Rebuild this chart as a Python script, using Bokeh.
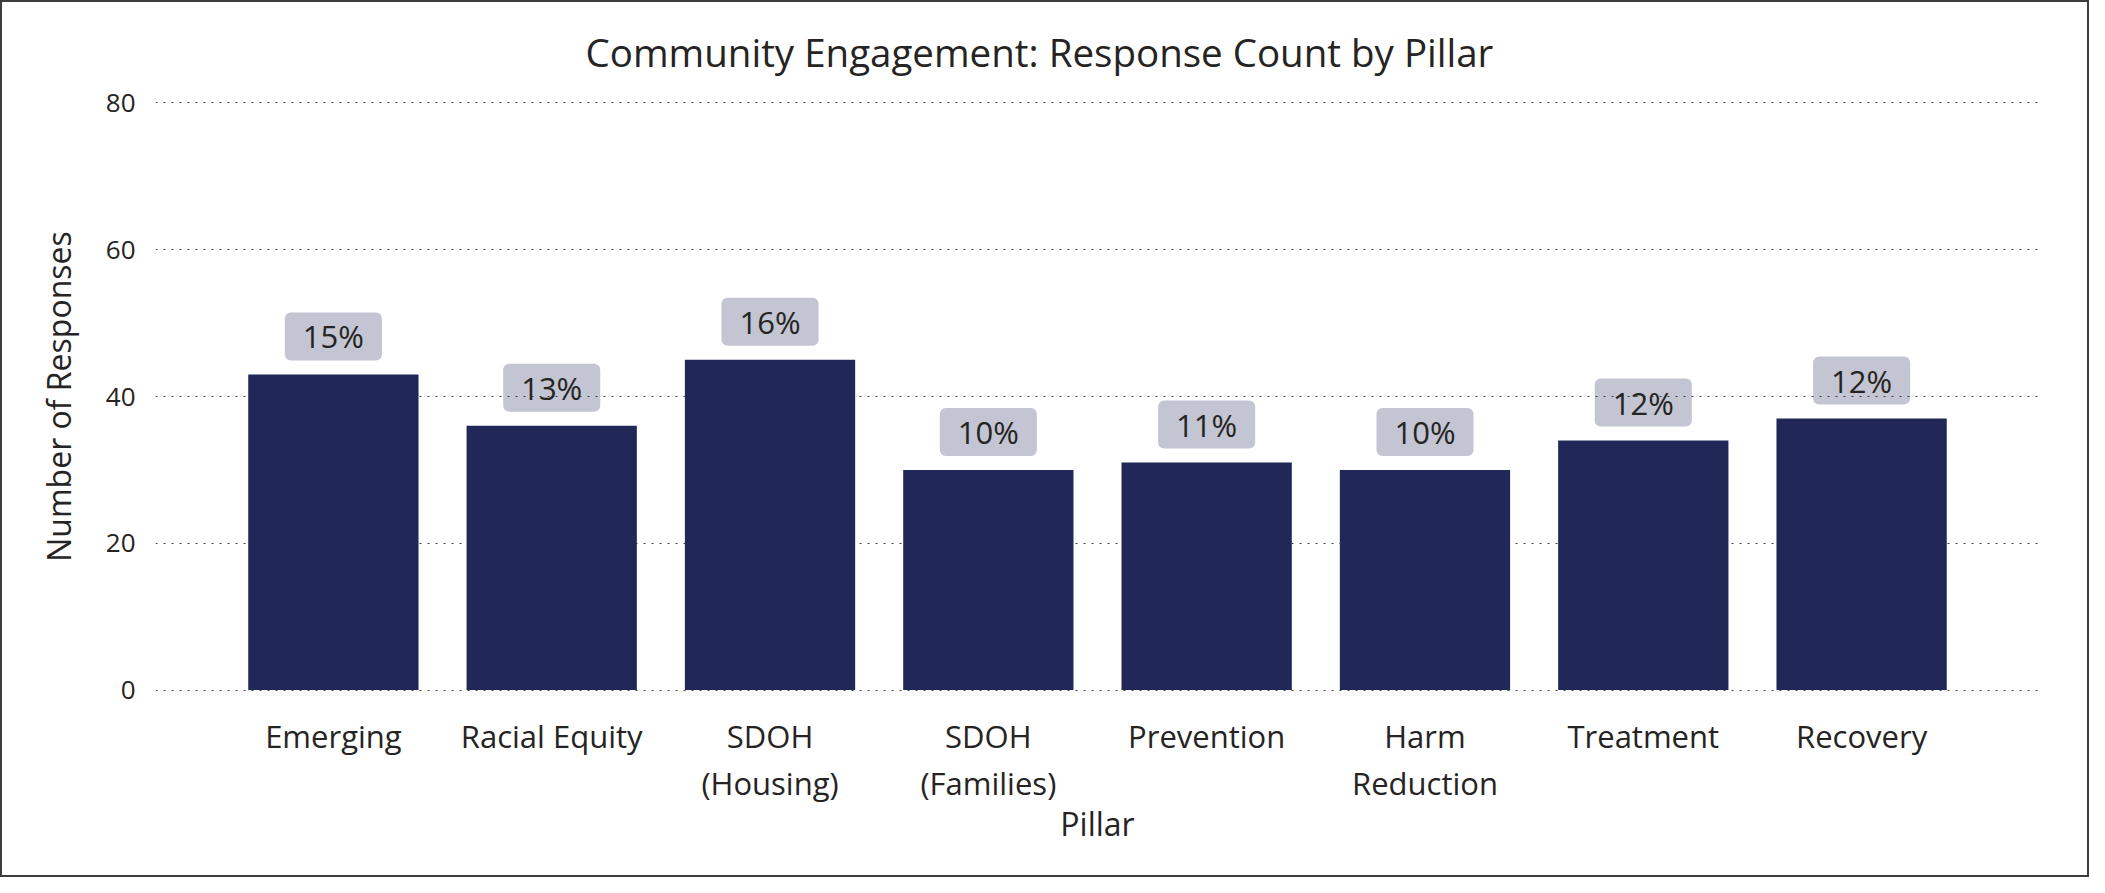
from bokeh.plotting import figure
from bokeh.models import FactorRange, Range1d, Label, FixedTicker
from bokeh.embed import file_html
from bokeh.resources import INLINE

# ---- data ----
title_text = "Community Engagement: Response Count by Pillar"
pillars = ["Emerging", "Racial Equity", "SDOH\n(Housing)", "SDOH\n(Families)",
           "Prevention", "Harm\nReduction", "Treatment", "Recovery"]
responses = [43, 36, 45, 30, 31, 30, 34, 37]
pct_labels = ["15%", "13%", "16%", "10%", "11%", "10%", "12%", "12%"]
y_ticks = [0, 20, 40, 60, 80]

FONT = "Open Sans"
TXT = "#252423"
BAR = "#212858"

p = figure(
    width=2089, height=877,
    x_range=FactorRange(*pillars, range_padding=0.0787),
    y_range=Range1d(-0.2, 80.2),
    output_backend="svg", toolbar_location=None,
    min_border_left=153, min_border_right=52,
    min_border_top=99, min_border_bottom=188,
)
p.styles = {"border": "2px solid #3c3c3c"}

p.title.text = title_text
p.title.text_font = FONT
p.title.text_font_size = "38.5px"
p.title.text_font_style = "normal"
p.title.text_color = TXT
p.title.align = "left"
p.title.offset = 430
p.title.standoff = 44
p.title.vertical_align = "top"

p.vbar(x=pillars, top=responses, width=0.78, color=BAR, line_color=None)

# Label positions use the factor range's synthetic coordinates (category i -> i + 0.5)
for i, (val, lab) in enumerate(zip(responses, pct_labels)):
    p.add_layout(Label(
        x=i + 0.5, y=val, y_offset=14, text=lab,
        text_align="center", text_baseline="bottom",
        text_font=FONT, text_font_size="31px", text_color=TXT,
        background_fill_color=BAR, background_fill_alpha=0.27,
        padding={"left": 18, "right": 18, "top": 3, "bottom": 3},
        border_radius=6,
    ))

p.outline_line_color = None
p.xgrid.grid_line_color = None
p.ygrid.grid_line_color = "#444444"
p.ygrid.grid_line_dash = "2 6"
p.ygrid.grid_line_width = 1

p.yaxis.ticker = FixedTicker(ticks=y_ticks)
for ax in (p.xaxis, p.yaxis):
    ax.axis_line_color = None
    ax.major_tick_line_color = None
    ax.minor_tick_line_color = None
    ax.major_tick_out = 0
    ax.major_tick_in = 0
    ax.major_label_text_font = FONT
    ax.major_label_text_color = TXT
    ax.axis_label_text_font = FONT
    ax.axis_label_text_font_style = "normal"
    ax.axis_label_text_color = TXT
    ax.axis_label_text_font_size = "32px"

p.xaxis.axis_label = "Pillar"
p.xaxis.major_label_text_font_size = "31px"
p.xaxis.major_label_text_line_height = 1.12
p.xaxis.major_label_standoff = 23
p.xaxis.axis_label_standoff = -5

p.yaxis.axis_label = "Number of Responses"
p.yaxis.major_label_text_font_size = "26px"
p.yaxis.major_label_standoff = 20
p.yaxis.axis_label_standoff = 23

open("out.html", "w").write(file_html(p, INLINE))
